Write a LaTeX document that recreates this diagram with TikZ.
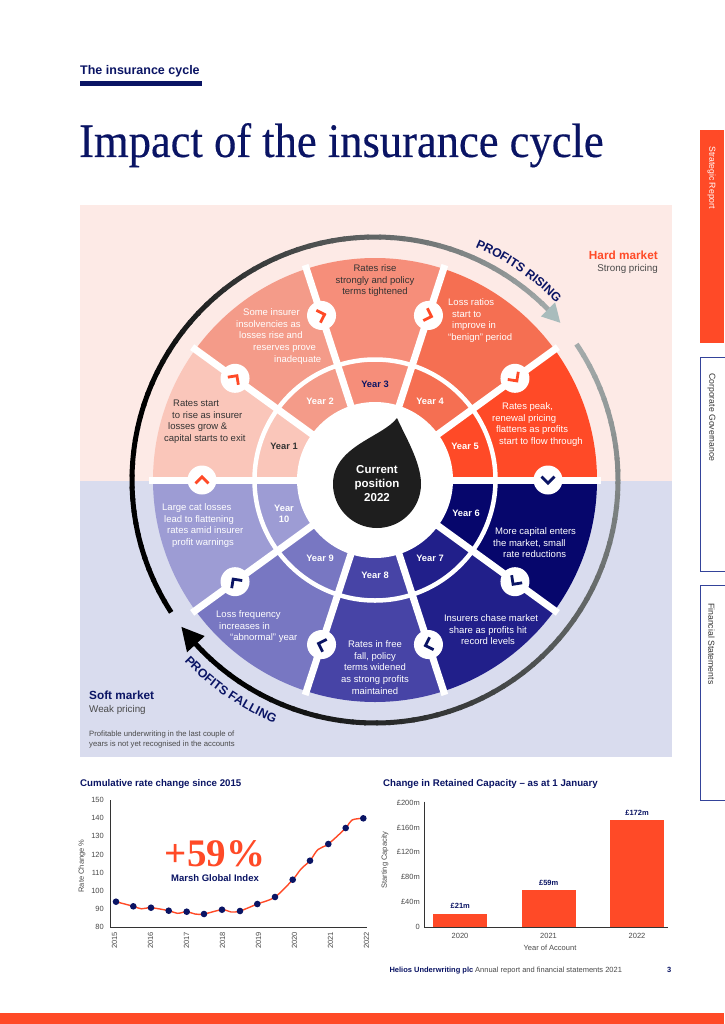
\documentclass[tikz,border=0pt]{standalone}
\usepackage{fontspec}
\setmainfont{Liberation Sans}
\newfontfamily\serifT{Liberation Serif}
\newfontfamily\serifTitle[FakeBold=0.35]{Liberation Serif}
\usetikzlibrary{decorations.text}
\definecolor{navy}{HTML}{0A1464}
\definecolor{hot}{HTML}{FF4A27}
\definecolor{pinkbg}{HTML}{FDEAE6}
\definecolor{lavbg}{HTML}{D9DCEE}
\definecolor{wa}{HTML}{FAC6BA}
\definecolor{wb}{HTML}{F49B89}
\definecolor{wc}{HTML}{F68E7A}
\definecolor{wd}{HTML}{F56F52}
\definecolor{we}{HTML}{FF4A27}
\definecolor{wf}{HTML}{06066C}
\definecolor{wg}{HTML}{211F8A}
\definecolor{wh}{HTML}{4744A6}
\definecolor{wi}{HTML}{7877C2}
\definecolor{wj}{HTML}{9D9CD4}
\definecolor{dark}{HTML}{333333}
\definecolor{midgray}{HTML}{4A4A4A}
\definecolor{arcgrey}{HTML}{A3AAAA}
\definecolor{headgrey}{HTML}{A9BCBC}
\definecolor{dropc}{HTML}{1E1E1E}
\definecolor{tabline}{HTML}{34439A}
\tikzset{
  wt/.style={font=\fontsize{9.5}{11.7}\selectfont, inner sep=0pt, text=white},
  dt/.style={wt, text=dark},
  yl/.style={font=\bfseries\fontsize{9.3}{11}\selectfont, inner sep=0pt, text=white, align=center},
  tick/.style={font=\fontsize{7.5}{9}\selectfont, inner sep=0pt, text=midgray},
  tabtext/.style={font=\fontsize{8.7}{10}\selectfont, inner sep=0pt, rotate=-90, anchor=west},
  charttitle/.style={font=\bfseries\fontsize{9.7}{11}\selectfont, inner sep=0pt, text=navy, anchor=base west},
  axisline/.style={draw=dark, line width=0.8},
}
\begin{document}
\begin{tikzpicture}[x=1pt,y=-1pt]
\useasboundingbox (0,0) rectangle (724,1024);
\fill[white] (0,0) rectangle (724,1024);

% ---------- header
\node[font=\bfseries\fontsize{12.5}{14}\selectfont, text=navy, anchor=base west, inner sep=0pt] (kicker) at (80,74.5) {The insurance cycle};
\fill[navy] (80,81) rectangle (202,86);
\node[font=\serifTitle\fontsize{45}{50}\selectfont, text=navy, anchor=base west, inner sep=0pt] (title) at (79,157) {\scalebox{0.99}[1.07]{Impact of the insurance cycle}};

% ---------- side tabs
\fill[hot] (700,130) rectangle (724,343);
\draw[tabline, line width=0.8] (725,357) -- (700.4,357) -- (700.4,571) -- (725,571);
\draw[tabline, line width=0.8] (725,585) -- (700.4,585) -- (700.4,800) -- (725,800);
\node[tabtext, text=white] (tabA) at (711.5,146) {Strategic Report};
\node[tabtext, text=dark] (tabB) at (711.5,373) {Corporate Governance};
\node[tabtext, text=dark] (tabC) at (711.5,603) {Financial Statements};

% ---------- panels
\fill[pinkbg] (80,205) rectangle (672,481);
\fill[lavbg] (80,481) rectangle (672,757);

% ---------- wheel
\begin{scope}[shift={(375,480)}, yscale=-1]
  \foreach \a/\c in {144/wa,108/wb,72/wc,36/wd,0/we,-36/wf,-72/wg,-108/wh,-144/wi,180/wj}{
    \pgfmathsetmacro\b{\a+36}
    \fill[\c] (\a:77) arc[start angle=\a, end angle=\b, radius=77] -- (\b:222) arc[start angle=\b, end angle=\a, radius=222] -- cycle;
  }
  \draw[white, line width=4.5] (0,0) circle[radius=120.5];
  \foreach \a in {0,36,...,324}{\draw[white, line width=7] (0,0) -- (\a:226);}
  \fill[white] (0,0) circle[radius=78];
  \foreach \a/\c in {180/hot,144/hot,108/hot,72/hot,36/hot,0/navy,-36/navy,-72/navy,-108/navy,-144/navy}{
    \fill[white] (\a:173) circle[radius=14.5];
    \draw[\c, line width=2.8, line cap=butt, line join=miter]
      ([shift={(\a:173)}]\a+26.9:7.29) -- ([shift={(\a:173)}]\a-90:3.2) -- ([shift={(\a:173)}]\a-206.9:7.29);
  }
  % top arc (profits rising)
  \foreach \i in {0,...,59}{
    \pgfmathsetmacro\sa{213-\i*169/60}
    \pgfmathsetmacro\ea{\sa-169/60-0.5}
    \pgfmathtruncatemacro\p{\sa>160 ? 100 : max(0,min(100,(\sa-44)/116*100))}
    \draw[line width=5, draw=black!\p!arcgrey] (\sa:243) arc[start angle=\sa, end angle=\ea, radius=243];
  }
  \fill[headgrey] (44.6:233) -- (40.3:243) -- (44.6:253) -- cycle;
  % bottom arc (profits falling)
  \foreach \i in {0,...,59}{
    \pgfmathsetmacro\sa{34-\i*172/60}
    \pgfmathsetmacro\ea{\sa-172/60-0.5}
    \pgfmathtruncatemacro\p{max(0,min(100,(34-\sa)/172*110))}
    \draw[line width=5, draw=black!\p!arcgrey] (\sa:243) arc[start angle=\sa, end angle=\ea, radius=243];
  }
  \fill[black] (-137.5:231) -- (-142.8:243) -- (-137.5:255) -- cycle;
\end{scope}

% arc captions
\path[decorate, decoration={text along path, text align=center, text color=navy,
  text={|\bfseries\fontsize{12.3}{14}\selectfont|PROFITS RISING}}]
  ([shift={(375,480)}]-78:253.5) arc[start angle=-78, end angle=-33, radius=253.5];
\path[decorate, decoration={text along path, text align=center, text color=navy,
  text={|\bfseries\fontsize{12.3}{14}\selectfont|PROFITS FALLING}}]
  ([shift={(375,480)}]-211:263) arc[start angle=-211, end angle=-260, radius=263];

% drop
\fill[dropc] (397,418) .. controls (383,437) and (333,446) .. (333,484)
  arc[start angle=180, end angle=0, radius=44]
  .. controls (421,462) and (405,436) .. (397,418) -- cycle;
\node[font=\bfseries\fontsize{11.5}{14}\selectfont, text=white, align=center, inner sep=0pt] (cur) at (377,484) {Current\\position\\2022};

% year labels
\node[yl, text=dark] (yr1) at (284,446) {Year 1};
\node[yl] (yr2) at (320,401) {Year 2};
\node[yl, text=navy] (yr3) at (375,384) {Year 3};
\node[yl] (yr4) at (430,401) {Year 4};
\node[yl] (yr5) at (465,446) {Year 5};
\node[yl] (yr6) at (466,513) {Year 6};
\node[yl] (yr7) at (430,558) {Year 7};
\node[yl] (yr8) at (375,575) {Year 8};
\node[yl] (yr9) at (320,558) {Year 9};
\node[yl] (yr10) at (284,513.5) {Year\\10};

% wedge texts
\foreach \n/\x/\y/\t in {1/173/406.3/Rates start, 2/172/418/to rise as insurer, 3/168/429.7/{losses grow \&}, 4/164/441.4/capital starts to exit}
  {\node[dt, anchor=base west] (ta\n) at (\x,\y) {\t};}
\foreach \n/\x/\y/\t in {1/243/315.3/Some insurer, 2/236/327/insolvencies as, 3/239/338.7/losses rise and, 4/253/350.4/reserves prove, 5/274/362.1/inadequate}
  {\node[wt, anchor=base west] (tb\n) at (\x,\y) {\t};}
\foreach \n/\y/\t in {1/271.3/Rates rise, 2/283/strongly and policy, 3/294.7/terms tightened}
  {\node[dt, anchor=base] (tc\n) at (375,\y) {\t};}
\foreach \n/\x/\y/\t in {1/448/305.3/Loss ratios, 2/452/317/start to, 3/452/328.7/improve in, 4/448/340.4/“benign” period}
  {\node[wt, anchor=base west] (td\n) at (\x,\y) {\t};}
\foreach \n/\x/\y/\t in {1/502/409.3/{Rates peak,}, 2/492/421/renewal pricing, 3/496/432.7/flattens as profits, 4/499/444.4/start to flow through}
  {\node[wt, anchor=base west] (te\n) at (\x,\y) {\t};}
\foreach \n/\x/\y/\t in {1/495/534.3/More capital enters, 2/493/546/{the market, small}, 3/503/557.7/rate reductions}
  {\node[wt, anchor=base west] (tf\n) at (\x,\y) {\t};}
\foreach \n/\x/\y/\t in {1/491/621.3/Insurers chase market, 2/488/633/share as profits hit, 3/488/644.7/record levels}
  {\node[wt, anchor=base] (tg\n) at (\x,\y) {\t};}
\foreach \n/\y/\t in {1/647.3/Rates in free, 2/659/{fall, policy}, 3/670.7/terms widened, 4/682.4/as strong profits, 5/694.1/maintained}
  {\node[wt, anchor=base] (th\n) at (375,\y) {\t};}
\foreach \n/\x/\y/\t in {1/216/617.3/Loss frequency, 2/219/629/increases in, 3/230/640.7/“abnormal” year}
  {\node[wt, anchor=base west] (ti\n) at (\x,\y) {\t};}
\foreach \n/\x/\y/\t in {1/162/510.3/Large cat losses, 2/164/522/lead to flattening, 3/167/533.7/rates amid insurer, 4/172/545.4/profit warnings}
  {\node[wt, anchor=base west] (tj\n) at (\x,\y) {\t};}

% market labels
\node[font=\bfseries\fontsize{11.8}{14}\selectfont, text=hot, anchor=base east, inner sep=0pt] (hard) at (658,259) {Hard market};
\node[font=\fontsize{9.8}{12}\selectfont, text=midgray, anchor=base east, inner sep=0pt] (strong) at (658,271) {Strong pricing};
\node[font=\bfseries\fontsize{11.8}{14}\selectfont, text=navy, anchor=base west, inner sep=0pt] (soft) at (89,699) {Soft market};
\node[font=\fontsize{9.8}{12}\selectfont, text=midgray, anchor=base west, inner sep=0pt] (weak) at (89,712.5) {Weak pricing};
\node[font=\fontsize{7.7}{10}\selectfont, text=midgray, anchor=north west, align=left, inner sep=0pt] (note) at (89,731) {Profitable underwriting in the last couple of\\years is not yet recognised in the accounts};

% ---------- left chart
\node[charttitle] (ctA) at (80,786.8) {Cumulative rate change since 2015};
\draw[axisline] (110,800) -- (110,927.3) -- (367,927.3);
\foreach \v in {80,90,...,150}{
  \node[tick, anchor=east] (ly\v) at (104,{927.3-(\v-80)*1.82}) {\v};
}
\foreach \yr/\x in {2015/114.5,2016/150.5,2017/186.5,2018/222.5,2019/258.5,2020/294.5,2021/330.5,2022/366.5}{
  \node[tick, rotate=90, anchor=east] (lx\yr) at (\x,932) {\yr};
}
\node[tick, rotate=90] (lyt) at (82,866) {Rate Change \%};
\draw[hot, line width=1.4] plot[smooth, tension=0.55] coordinates {(116,901.7) (133.3,906.3) (141.5,908.8) (151,907.7) (168.7,910.7) (177.5,913.3) (186.7,911.7) (195,914) (204,914) (222,909.7) (231,912) (240,911) (257.3,904) (275,897) (292.7,879.7) (301,869) (310,860.7) (318,849.5) (328.3,844) (345.7,828) (352,820) (363.3,818.3)};
\foreach \n/\x/\y in {1/116/901.7,2/133.3/906.3,3/151/907.7,4/168.7/910.7,5/186.7/911.7,6/204/914,7/222/909.7,8/240/911,9/257.3/904,10/275/897,11/292.7/879.7,12/310/860.7,13/328.3/844,14/345.7/828,15/363.3/818.3}{
  \fill[navy] (\x,\y) circle[radius=3.3];
}
\node[font=\serifT\bfseries\fontsize{39}{40}\selectfont, text=hot, inner sep=0pt, anchor=base] (big) at (215,866) {+59\%};
\node[font=\bfseries\fontsize{9.5}{11}\selectfont, text=navy, inner sep=0pt, anchor=base] (marsh) at (215,881.6) {Marsh Global Index};

% ---------- right chart
\node[charttitle] (ctB) at (383,786.8) {Change in Retained Capacity – as at 1 January};
\foreach \n/\x/\v/\l in {a/433.3/21/£21m, b/521.7/59/£59m, c/610/172/£172m}{
  \fill[hot] (\x,{926.7-\v*0.62}) rectangle (\x+54,926.7);
  \node[font=\bfseries\fontsize{7.5}{9}\selectfont, text=navy, inner sep=0pt, anchor=base] (bl\n) at (\x+27,{926.7-\v*0.62-5}) {\l};
}
\draw[axisline] (424.3,801.7) -- (424.3,927.3) -- (668,927.3);
\foreach \n/\v/\l in {a/0/0, b/40/£40m, c/80/£80m, d/120/£120m, e/160/£160m, f/200/£200m}{
  \node[tick, anchor=east] (ry\n) at (420,{926.7-\v*0.62}) {\l};
}
\foreach \yr/\x in {2020/460,2021/548.5,2022/637}{
  \node[tick, anchor=base] (rx\yr) at (\x,938.5) {\yr};
}
\node[tick, anchor=base] (rxt) at (550,950.5) {Year of Account};
\node[tick, rotate=90] (ryt) at (385,860) {Starting Capacity};

% ---------- footer
\node[font=\bfseries\fontsize{7.5}{9}\selectfont, text=navy, anchor=base west, inner sep=0pt] (foot1) at (389.3,972) {Helios Underwriting plc};
\node[font=\fontsize{7.5}{9}\selectfont, text=midgray, anchor=base west, inner sep=0pt] (foot2) at (475,972) {Annual report and financial statements 2021};
\node[font=\bfseries\fontsize{7.5}{9}\selectfont, text=navy, anchor=base, inner sep=0pt] (foot3) at (669.3,972) {3};
\fill[hot] (0,1013.3) rectangle (724,1024);
\end{tikzpicture}
\end{document}
